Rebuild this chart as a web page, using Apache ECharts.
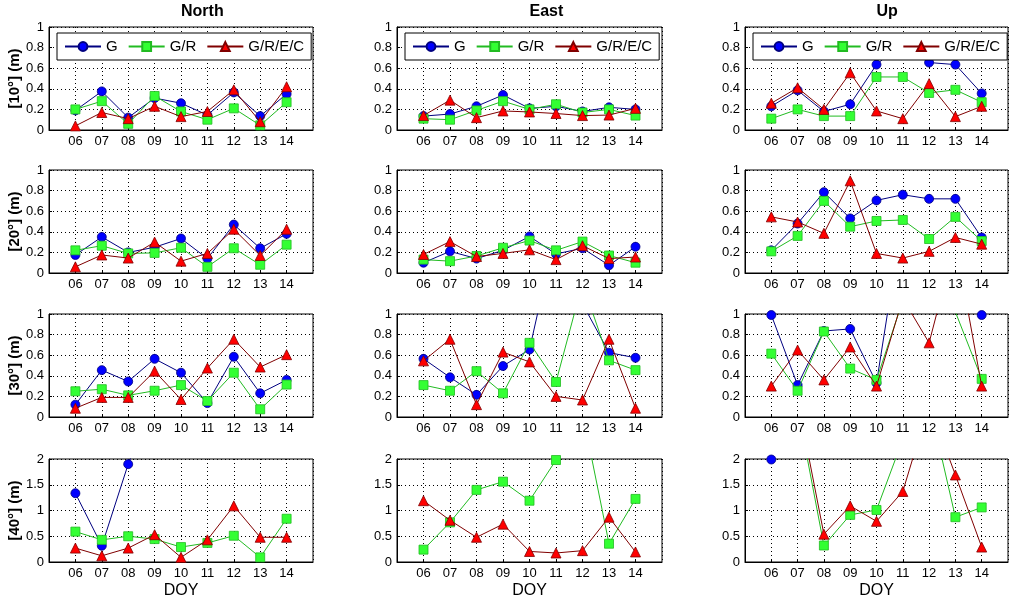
<!DOCTYPE html>
<html>
<head>
<meta charset="utf-8">
<script src="https://cdn.jsdelivr.net/npm/echarts@6/dist/echarts.min.js"></script>
<style>html,body{margin:0;padding:0;background:#fff}#chart{width:1024px;height:602px}</style>
</head>
<body>
<div id="chart"></div>
<script>
// ---- data ----
const days = [6, 7, 8, 9, 10, 11, 12, 13, 14];
const dayLabels = ['06', '07', '08', '09', '10', '11', '12', '13', '14'];
const components = ['North', 'East', 'Up'];
const rowLabels = ['[10°] (m)', '[20°] (m)', '[30°] (m)', '[40°] (m)'];
const seriesNames = ['G', 'G/R', 'G/R/E/C'];
const rowMax = [1, 1, 1, 2];
const rowInterval = [0.2, 0.2, 0.2, 0.5];

// 10 deg
const N10_G    = [0.19, 0.375, 0.12, 0.31, 0.26, 0.145, 0.365, 0.135, 0.35];
const N10_GR   = [0.20, 0.28, 0.06, 0.33, 0.18, 0.10, 0.21, 0.045, 0.27];
const N10_GREC = [0.04, 0.17, 0.11, 0.23, 0.13, 0.18, 0.39, 0.08, 0.42];
const E10_G    = [0.135, 0.155, 0.23, 0.34, 0.21, 0.23, 0.18, 0.22, 0.20];
const E10_GR   = [0.11, 0.10, 0.19, 0.28, 0.20, 0.25, 0.17, 0.20, 0.14];
const E10_GREC = [0.14, 0.29, 0.12, 0.185, 0.175, 0.16, 0.14, 0.145, 0.21];
const U10_G    = [0.23, 0.385, 0.18, 0.25, 0.635, 0.85, 0.655, 0.635, 0.355];
const U10_GR   = [0.11, 0.20, 0.135, 0.135, 0.515, 0.515, 0.36, 0.39, 0.27];
const U10_GREC = [0.26, 0.41, 0.20, 0.555, 0.185, 0.11, 0.45, 0.13, 0.23];
// 20 deg
const N20_G    = [0.175, 0.35, 0.20, 0.25, 0.335, 0.14, 0.47, 0.24, 0.38];
const N20_GR   = [0.22, 0.265, 0.19, 0.195, 0.245, 0.06, 0.24, 0.08, 0.275];
const N20_GREC = [0.06, 0.175, 0.145, 0.30, 0.115, 0.19, 0.425, 0.17, 0.425];
const E20_G    = [0.10, 0.21, 0.14, 0.22, 0.355, 0.185, 0.24, 0.075, 0.255];
const E20_GR   = [0.13, 0.115, 0.165, 0.245, 0.315, 0.22, 0.305, 0.17, 0.10];
const E20_GREC = [0.18, 0.305, 0.16, 0.19, 0.225, 0.13, 0.265, 0.14, 0.155];
const U20_G    = [0.22, 0.48, 0.785, 0.53, 0.705, 0.76, 0.72, 0.72, 0.345];
const U20_GR   = [0.21, 0.36, 0.70, 0.45, 0.505, 0.515, 0.33, 0.545, 0.31];
const U20_GREC = [0.545, 0.495, 0.385, 0.895, 0.19, 0.145, 0.21, 0.345, 0.28];
// 30 deg
const N30_G    = [0.12, 0.455, 0.345, 0.565, 0.43, 0.135, 0.585, 0.23, 0.36];
const N30_GR   = [0.25, 0.27, 0.21, 0.255, 0.31, 0.155, 0.43, 0.075, 0.315];
const N30_GREC = [0.085, 0.19, 0.19, 0.445, 0.17, 0.475, 0.755, 0.485, 0.605];
const E30_G    = [0.565, 0.385, 0.215, 0.495, 0.655, 1.8, 1.1, 0.625, 0.575];
const E30_GR   = [0.31, 0.255, 0.445, 0.23, 0.72, 0.34, 1.3, 0.55, 0.455];
const E30_GREC = [0.545, 0.755, 0.12, 0.63, 0.535, 0.20, 0.165, 0.755, 0.085];
const U30_G    = [0.99, 0.31, 0.835, 0.855, 0.33, 1.95, 1.6, 1.5, 0.99];
const U30_GR   = [0.615, 0.255, 0.83, 0.47, 0.36, 1.13, 1.5, 1.02, 0.37];
const U30_GREC = [0.30, 0.65, 0.36, 0.68, 0.30, 1.15, 0.72, 1.7, 0.30];
// 40 deg
const N40_G    = [1.335, 0.315, 1.9, 3.2, 3.0, 2.8, 3.1, 2.9, 3.3];
const N40_GR   = [0.59, 0.43, 0.50, 0.445, 0.29, 0.37, 0.51, 0.09, 0.84];
const N40_GREC = [0.27, 0.12, 0.27, 0.53, 0.09, 0.43, 1.09, 0.48, 0.48];
const E40_G    = [2.6, 2.9, 3.1, 2.7, 3.4, 3.0, 3.3, 2.8, 2.5];
const E40_GR   = [0.24, 0.77, 1.40, 1.56, 1.19, 1.98, 2.9, 0.355, 1.225];
const E40_GREC = [1.19, 0.81, 0.48, 0.735, 0.205, 0.175, 0.22, 0.87, 0.195];
const U40_G    = [1.99, 3.2, 3.5, 2.9, 3.1, 3.4, 3.0, 2.8, 2.7];
const U40_GR   = [2.6, 3.0, 0.32, 0.915, 1.01, 2.38, 3.1, 0.87, 1.06];
const U40_GREC = [2.8, 3.15, 0.54, 1.09, 0.79, 1.37, 3.06, 1.69, 0.29];

const panels = [
  [[N10_G, N10_GR, N10_GREC], [E10_G, E10_GR, E10_GREC], [U10_G, U10_GR, U10_GREC]],
  [[N20_G, N20_GR, N20_GREC], [E20_G, E20_GR, E20_GREC], [U20_G, U20_GR, U20_GREC]],
  [[N30_G, N30_GR, N30_GREC], [E30_G, E30_GR, E30_GREC], [U30_G, U30_GR, U30_GREC]],
  [[N40_G, N40_GR, N40_GREC], [E40_G, E40_GR, E40_GREC], [U40_G, U40_GR, U40_GREC]]
];

// ---- layout & style ----
const FONT = 'Liberation Sans, Arial, Helvetica, sans-serif';
const colLeft = [49, 397, 745];
const colWidth = [264, 265, 263];
const rowTop = [27, 170, 314, 459];
const plotH = 103;
const lineColors = ['#000080', '#22bb22', '#800000'];
const fillColors = ['#0000ff', '#33ff33', '#ff0000'];
const symbols = ['circle', 'rect', 'triangle'];
const symbolSizes = [9, 9, 10];

const grids = [], xAxes = [], yAxes = [], series = [], legends = [], graphics = [];
let idx = 0;
for (let r = 0; r < 4; r++) {
  for (let c = 0; c < 3; c++) {
    grids.push({
      left: colLeft[c], top: rowTop[r], width: colWidth[c], height: plotH,
      show: true, borderColor: '#000', borderWidth: 1, backgroundColor: '#fff'
    });
    xAxes.push({
      type: 'value', gridIndex: idx, min: 5, max: 15, interval: 1,
      name: r === 3 ? 'DOY' : '', nameLocation: 'middle', nameGap: 21,
      nameTextStyle: { fontSize: 16, color: '#000', fontFamily: FONT },
      axisLine: { lineStyle: { color: '#000', width: 1 } },
      axisTick: { inside: true, length: 3, lineStyle: { color: '#000' } },
      axisLabel: {
        showMinLabel: false, showMaxLabel: false, margin: 5,
        fontSize: 13, color: '#000', fontFamily: FONT,
        formatter: v => { const i = days.indexOf(v); return i >= 0 ? dayLabels[i] : ''; }
      },
      splitLine: { show: true, lineStyle: { color: '#000', type: [1, 3], width: 1 } }
    });
    yAxes.push({
      type: 'value', gridIndex: idx, min: 0, max: rowMax[r], interval: rowInterval[r],
      name: c === 0 ? rowLabels[r] : '', nameLocation: 'middle', nameRotate: 90, nameGap: 27,
      nameTextStyle: { fontSize: 15, fontWeight: 'bold', color: '#000', fontFamily: FONT },
      axisLine: { show: true, lineStyle: { color: '#000', width: 1 } },
      axisTick: { show: true, inside: true, length: 3, lineStyle: { color: '#000' } },
      axisLabel: { margin: 5, fontSize: 13, color: '#000', fontFamily: FONT },
      splitLine: { show: true, lineStyle: { color: '#000', type: [1, 3], width: 1 } }
    });
    const vals = panels[r][c];
    for (let s = 0; s < 3; s++) {
      series.push({
        name: seriesNames[s], type: 'line', xAxisIndex: idx, yAxisIndex: idx,
        data: days.map((d, i) => [d, vals[s][i]]),
        symbol: symbols[s], symbolSize: symbolSizes[s], showAllSymbol: true,
        clip: true, animation: false,
        lineStyle: { color: lineColors[s], width: 1 },
        itemStyle: { color: fillColors[s], borderColor: lineColors[s], borderWidth: 0.8 },
        z: 2 + s
      });
    }
    idx++;
  }
}
for (let c = 0; c < 3; c++) {
  legends.push({
    data: seriesNames, left: colLeft[c] + 8, top: 33, orient: 'horizontal',
    backgroundColor: '#fff', borderColor: '#000', borderWidth: 1,
    padding: [6, 7], itemGap: 10, itemWidth: 36, itemHeight: 11,
    textStyle: { fontSize: 15, color: '#000', fontFamily: FONT },
    selectedMode: false, z: 10
  });
  graphics.push({
    type: 'text', left: colLeft[c] + colWidth[c] / 2, top: 4,
    style: { text: components[c], fill: '#000', font: 'bold 16px ' + FONT, textAlign: 'center' }
  });
}

const chart = echarts.init(document.getElementById('chart'), null, { renderer: 'canvas' });
chart.setOption({
  backgroundColor: '#fff',
  animation: false,
  grid: grids, xAxis: xAxes, yAxis: yAxes, series: series, legend: legends,
  graphic: graphics
});
</script>
</body>
</html>
